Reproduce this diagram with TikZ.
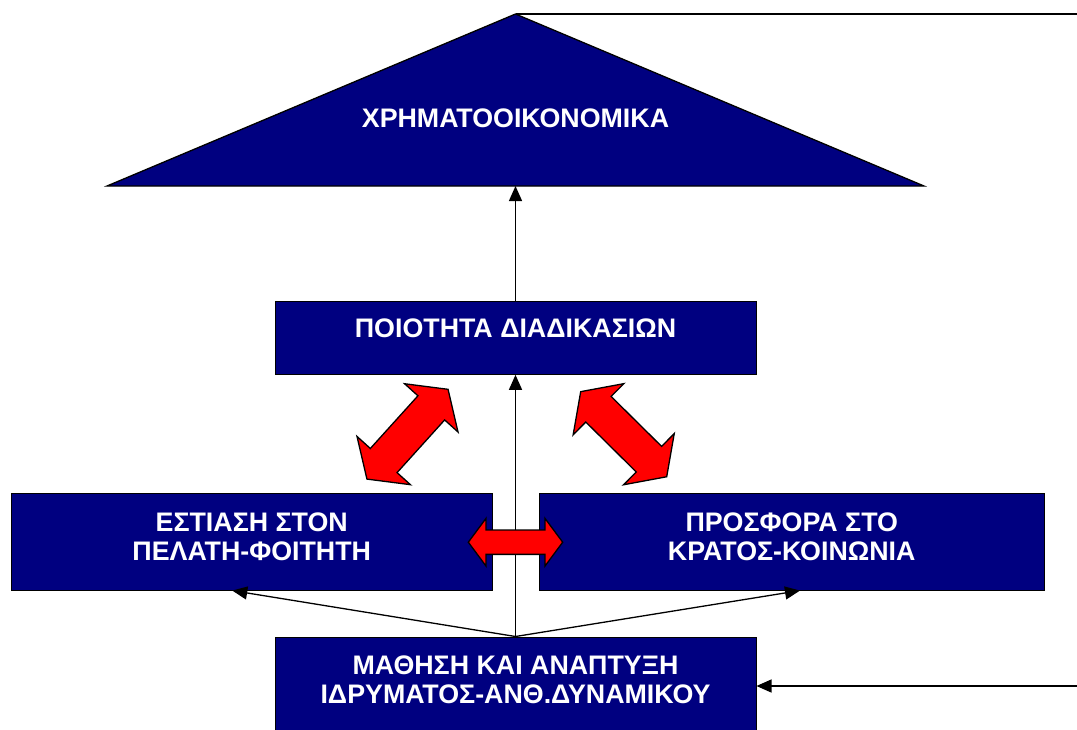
\documentclass[tikz,border=0pt]{standalone}
\usepackage{fontspec}
\setmainfont{Liberation Sans}
\usetikzlibrary{arrows.meta,calc}
\definecolor{navyfill}{RGB}{0,0,128}
% two-headed block arrow: #1 name, #2 centre, #3 angle, #4 half length,
% #5 head length, #6 head half width, #7 shaft half width
\newcommand\redDblArrow[7]{%
  \begin{scope}[shift={#2}, rotate=#3]
    \coordinate (#1) at (0,0);
    \filldraw[redblock]
      (-#4,0) -- ({-#4+#5},#6) -- ({-#4+#5},#7) -- ({#4-#5},#7) -- ({#4-#5},#6)
      -- (#4,0) -- ({#4-#5},-#6) -- ({#4-#5},-#7) -- ({-#4+#5},-#7) -- ({-#4+#5},-#6) -- cycle;
  \end{scope}}
\begin{document}
\begin{tikzpicture}[x=1pt,y=-1pt,
  box/.style={draw=black, line width=1pt, fill=navyfill, inner sep=0pt},
  lbl/.style={text=white, font=\fontsize{26.8}{29}\selectfont\bfseries, align=center, inner sep=0pt},
  conn/.style={line width=1.3pt, -{Triangle[length=15pt,width=13pt]}},
  plainline/.style={line width=1.3pt},
  redblock/.style={draw=black, fill=red, line width=1.3pt, line join=miter}]
\clip (0,0) rectangle (1077,729);

% financial perspective: the triangle on top
\coordinate (apex) at (515.5,14);
\coordinate (bl) at (107,186);
\coordinate (br) at (924,186);
\coordinate (base) at (515.5,186);
\filldraw[fill=navyfill, draw=black, line width=1.3pt, line join=miter] (bl) -- (apex) -- (br) -- cycle;
\node[lbl] (fin) at (515.5,118) {ΧΡΗΜΑΤΟΟΙΚΟΝΟΜΙΚΑ};

% perspective boxes
\node[box, minimum width=481pt, minimum height=72.6pt] (proc) at (515.5,338) {};
\node[box, minimum width=481.5pt, minimum height=96.7pt] (client) at (251.75,541.7) {};
\node[box, minimum width=504.5pt, minimum height=96.7pt] (state) at (791.75,541.7) {};
\node[box, minimum width=481pt, minimum height=95pt] (learn) at (515.5,684.5) {};

\node[lbl] (proct) at ([yshift=9.5pt]proc.center) {ΠΟΙΟΤΗΤΑ ΔΙΑΔΙΚΑΣΙΩΝ};
\node[lbl] (clientt) at ([yshift=5pt]client.center) {ΕΣΤΙΑΣΗ ΣΤΟΝ\\ΠΕΛΑΤΗ-ΦΟΙΤΗΤΗ};
\node[lbl] (statet) at ([yshift=5pt]state.center) {ΠΡΟΣΦΟΡΑ ΣΤΟ\\ΚΡΑΤΟΣ-ΚΟΙΝΩΝΙΑ};
\node[lbl] (learnt) at ([yshift=5pt]learn.center) {ΜΑΘΗΣΗ ΚΑΙ ΑΝΑΠΤΥΞΗ\\ΙΔΡΥΜΑΤΟΣ-ΑΝΘ.ΔΥΝΑΜΙΚΟΥ};

% cause-and-effect links
\draw[conn] (proc.north) -- (base);
\draw[conn] (learn.north) -- (proc.south);
\draw[conn] (learn.north) -- ([xshift=-19.5pt]client.south);
\draw[conn] (learn.north) -- ([xshift=8.25pt]state.south);

% feedback loop from the top back to learning
\coordinate (loopA) at (1086,14);
\coordinate (loopB) at (1086,686);
\draw[plainline] (apex) -- (loopA) -- (loopB);
\draw[conn] (loopB) -- (loopB -| learn.east);

% two-way interactions
\redDblArrow{rl}{(407.5,434.2)}{47.9}{60.5}{25}{36}{18}
\redDblArrow{rr}{(623.7,434.2)}{-44.7}{60.5}{25}{36}{18}
\redDblArrow{rh}{(515.5,542.2)}{0}{47.2}{17.7}{23.85}{12.15}
\end{tikzpicture}
\end{document}
